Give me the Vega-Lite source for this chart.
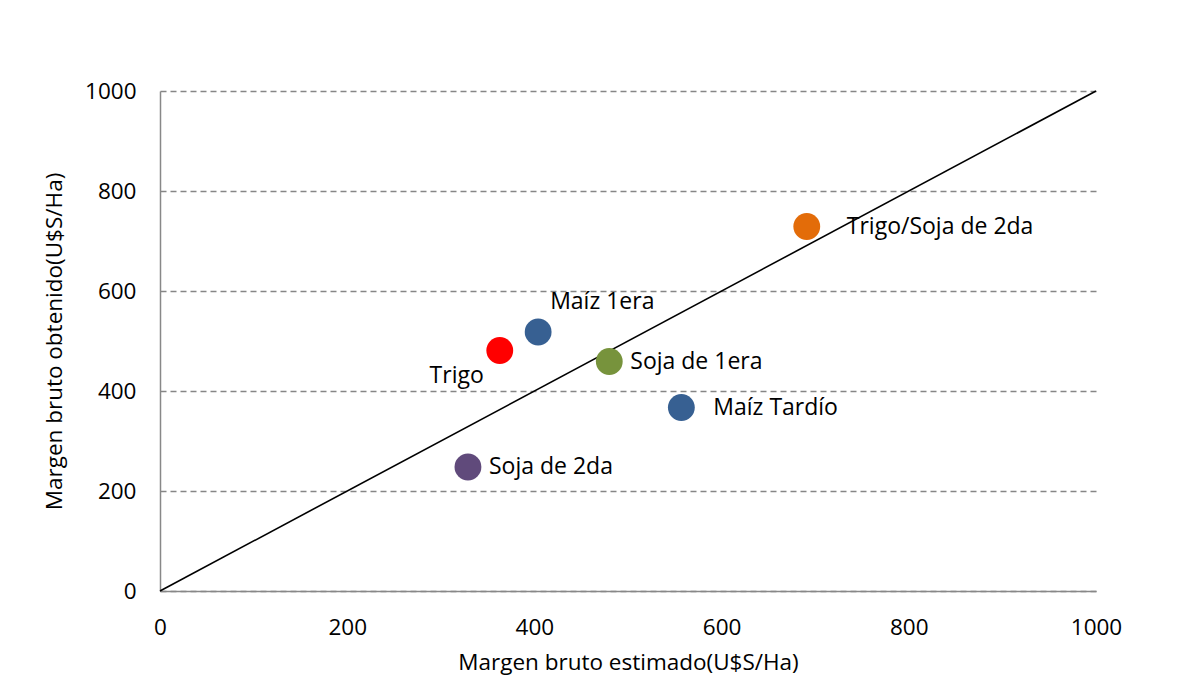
{
  "$schema": "https://vega.github.io/schema/vega-lite/v6.json",
  "width": 936,
  "height": 500,
  "autosize": "none",
  "padding": {"left": 160, "top": 91, "right": 97, "bottom": 95},
  "background": "white",
  "config": {"font": "Open Sans", "view": {"stroke": null}},
  "datasets": {
    "pts": [
      {"cultivo": "Trigo", "estimado": 363, "obtenido": 481},
      {"cultivo": "Maíz 1era", "estimado": 404, "obtenido": 518},
      {"cultivo": "Soja de 1era", "estimado": 480, "obtenido": 459},
      {"cultivo": "Maíz Tardío", "estimado": 557, "obtenido": 367},
      {"cultivo": "Soja de 2da", "estimado": 329, "obtenido": 248},
      {"cultivo": "Trigo/Soja de 2da", "estimado": 691, "obtenido": 729}
    ],
    "diag": [
      {"estimado": 0, "obtenido": 0},
      {"estimado": 1000, "obtenido": 1000}
    ]
  },
  "layer": [
    {
      "data": {"name": "diag"},
      "mark": {"type": "line", "color": "black", "strokeWidth": 1.6},
      "encoding": {
        "x": {"field": "estimado", "type": "quantitative", "scale": {"domain": [0, 1000], "nice": false},
          "axis": {"title": "Margen bruto estimado(U$S/Ha)", "values": [0, 200, 400, 600, 800, 1000], "format": "d", "grid": false, "ticks": false,
            "domainColor": "#888888", "domainWidth": 1.5, "labelFontSize": 22.5, "labelColor": "black", "labelPadding": 25,
            "titleFontSize": 22.5, "titleFontWeight": "normal", "titleColor": "black", "titlePadding": 13, "labelFlush": false}},
        "y": {"field": "obtenido", "type": "quantitative", "scale": {"domain": [0, 1000], "nice": false},
          "axis": {"title": "Margen bruto obtenido(U$S/Ha)", "values": [0, 200, 400, 600, 800, 1000], "format": "d", "grid": true, "gridDash": [6, 4], "gridColor": "#868686", "gridWidth": 1.3, "ticks": false,
            "domainColor": "#888888", "domainWidth": 1.5, "labelFontSize": 22.5, "labelColor": "black", "labelPadding": 24,
            "titleFontSize": 22.5, "titleFontWeight": "normal", "titleColor": "black", "titlePadding": 18, "labelFlush": false}}
      }
    },
    {
      "data": {"name": "pts"},
      "mark": {"type": "circle", "opacity": 1, "size": 720},
      "encoding": {
        "x": {"field": "estimado", "type": "quantitative"},
        "y": {"field": "obtenido", "type": "quantitative"},
        "color": {"field": "cultivo", "type": "nominal", "legend": null,
          "scale": {"domain": ["Trigo", "Maíz 1era", "Soja de 1era", "Maíz Tardío", "Soja de 2da", "Trigo/Soja de 2da"],
            "range": ["#FF0000", "#376092", "#77933C", "#376092", "#604A7B", "#E36C09"]}}
      }
    },
    {
      "data": {"name": "pts"},
      "transform": [{"filter": "datum.cultivo === 'Soja de 1era' || datum.cultivo === 'Soja de 2da'"}],
      "mark": {"type": "text", "align": "left", "baseline": "middle", "dx": 21, "fontSize": 23, "color": "black"},
      "encoding": {"x": {"field": "estimado", "type": "quantitative"}, "y": {"field": "obtenido", "type": "quantitative"}, "text": {"field": "cultivo"}}
    },
    {
      "data": {"name": "pts"},
      "transform": [{"filter": "datum.cultivo === 'Maíz Tardío'"}],
      "mark": {"type": "text", "align": "left", "baseline": "middle", "dx": 32, "fontSize": 23, "color": "black"},
      "encoding": {"x": {"field": "estimado", "type": "quantitative"}, "y": {"field": "obtenido", "type": "quantitative"}, "text": {"field": "cultivo"}}
    },
    {
      "data": {"name": "pts"},
      "transform": [{"filter": "datum.cultivo === 'Trigo/Soja de 2da'"}],
      "mark": {"type": "text", "align": "left", "baseline": "middle", "dx": 40, "fontSize": 23, "color": "black"},
      "encoding": {"x": {"field": "estimado", "type": "quantitative"}, "y": {"field": "obtenido", "type": "quantitative"}, "text": {"field": "cultivo"}}
    },
    {
      "data": {"name": "pts"},
      "transform": [{"filter": "datum.cultivo === 'Maíz 1era'"}],
      "mark": {"type": "text", "align": "left", "baseline": "middle", "dx": 12, "dy": -30, "fontSize": 23, "color": "black"},
      "encoding": {"x": {"field": "estimado", "type": "quantitative"}, "y": {"field": "obtenido", "type": "quantitative"}, "text": {"field": "cultivo"}}
    },
    {
      "data": {"name": "pts"},
      "transform": [{"filter": "datum.cultivo === 'Trigo'"}],
      "mark": {"type": "text", "align": "right", "baseline": "middle", "dx": -16, "dy": 25, "fontSize": 23, "color": "black"},
      "encoding": {"x": {"field": "estimado", "type": "quantitative"}, "y": {"field": "obtenido", "type": "quantitative"}, "text": {"field": "cultivo"}}
    }
  ]
}
